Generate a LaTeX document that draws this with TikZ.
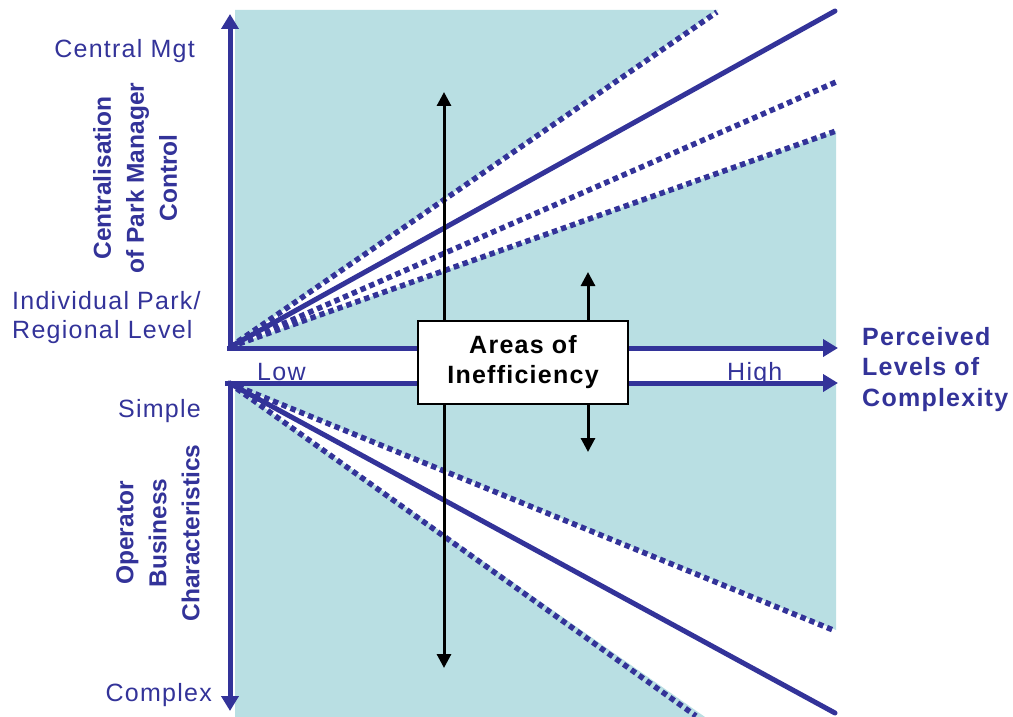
\documentclass[tikz,border=0pt]{standalone}
\usepackage{fontspec}
\setmainfont{Liberation Sans}
\newfontfamily\spacedfont[LetterSpace=5]{Liberation Sans}
\usetikzlibrary{arrows.meta}
\definecolor{axisblue}{RGB}{51,51,153}
\definecolor{zonefill}{RGB}{185,223,227}

\begin{document}
\begin{tikzpicture}[x=1pt,y=-1pt,
  axis/.style={draw=axisblue, line width=5pt, -{Triangle[length=15pt,width=17pt]}},
  trend/.style={draw=axisblue, line width=5pt, line cap=round},
  trenddash/.style={draw=axisblue, line width=5.5pt, dash pattern=on 5.5pt off 4pt},
  spread/.style={draw=black, line width=3pt, -{Triangle[length=14pt,width=14pt]}},
  lbl/.style={text=axisblue, inner sep=0pt, font=\spacedfont\fontsize{25}{29}\selectfont},
  lblbold/.style={text=axisblue, inner sep=0pt, font=\spacedfont\bfseries\fontsize{25}{30.5}\selectfont},
  vlbl/.style={text=axisblue, inner sep=0pt, rotate=90, align=center,
    font=\bfseries\fontsize{24.5}{33}\selectfont},
  zone/.style={fill=zonefill, draw=none}
]
\useasboundingbox (0,0) rectangle (1013,717);

% origins of the two halves
\coordinate (oTop) at (230,347);
\coordinate (oBot) at (229,383);

% shaded zones outside the spread of the control lines
\fill[zone] (235,10) -- (718,10) -- (oTop) -- (235,347) -- cycle;
\fill[zone] (oTop) -- (836,131) -- (836,348) -- cycle;
\fill[zone] (oBot) -- (836,383) -- (836,630) -- cycle;
\fill[zone] (235,383) -- (oBot) -- (705,717) -- (235,717) -- cycle;

% fan of lines, upper half
\coordinate (uA) at (717,12);
\coordinate (uB) at (835,11);
\coordinate (uC) at (836,82);
\coordinate (uD) at (836,131);
\draw[trenddash] (oTop) -- (uA);
\draw[trend] (oTop) -- (uB);
\draw[trenddash] (oTop) -- (uC);
\draw[trenddash] (oTop) -- (uD);

% fan of lines, lower half
\coordinate (lA) at (833,630);
\coordinate (lB) at (835,713);
\coordinate (lC) at (696,716);
\draw[trenddash] (oBot) -- (lA);
\draw[trend] (oBot) -- (lB);
\draw[trenddash] (oBot) -- (lC);

% axes
\coordinate (vTopEnd) at (230,14);
\coordinate (vTopStart) at (230,350);
\coordinate (hTopStart) at (227,348);
\coordinate (hTopEnd) at (838,348);
\coordinate (hBotStart) at (225,383);
\coordinate (hBotEnd) at (838,383);
\coordinate (vBotStart) at (230,381);
\coordinate (vBotEnd) at (230,711);
\draw[axis] (vTopStart) -- (vTopEnd);
\draw[axis] (hTopStart) -- (hTopEnd);
\draw[axis] (hBotStart) -- (hBotEnd);
\draw[axis] (vBotStart) -- (vBotEnd);

% range of inefficiency
\coordinate (spreadTop) at (444,92);
\coordinate (spreadBot) at (444,668);
\draw[spread, {Triangle[length=14pt,width=14pt]}-{Triangle[length=14pt,width=14pt]}] (spreadBot) -- (spreadTop);

\node[draw=black, line width=1.8pt, fill=white, minimum width=210pt, minimum height=83pt,
      inner sep=0pt, align=center,
      font=\spacedfont\bfseries\fontsize{25}{30}\selectfont] (box) at (523,362.5) {Areas of\\Inefficiency};

\coordinate (shortUp) at (588,272);
\coordinate (shortDown) at (588,452);
\draw[spread] (box.north -| shortUp) -- (shortUp);
\draw[spread] (box.south -| shortDown) -- (shortDown);

% axis labels
\node[lbl, anchor=base east] (centralMgt) at (195,58) {Central Mgt};
\node[lbl, anchor=base west] (indivPark) at (12,309) {Individual Park/};
\node[lbl, anchor=base west] (regional) at (12,338) {Regional Level};
\node[vlbl] (centralisation) at (135,178) {Centralisation\\of Park Manager\\Control};

\node[lbl, anchor=base east] (simple) at (201,417) {Simple};
\node[lbl, anchor=base east] (complex) at (212,701) {Complex};
\node[vlbl] (operator) at (158,533) {Operator\\Business\\Characteristics};

\node[lbl, anchor=base west] (low) at (257,380) {Low};
\node[lbl, anchor=base west] (high) at (727,380) {High};

\node[lblbold, anchor=base west] (perceived) at (862,345) {Perceived};
\node[lblbold, anchor=base west] (levels) at (862,375.5) {Levels of};
\node[lblbold, anchor=base west] (complexity) at (862,406) {Complexity};
\end{tikzpicture}
\end{document}
